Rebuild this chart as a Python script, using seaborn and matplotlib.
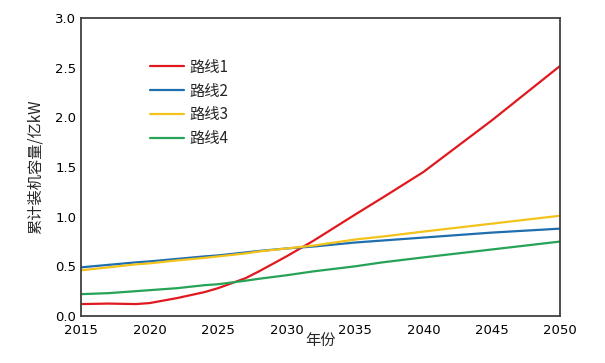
import matplotlib
matplotlib.use("Agg")
import matplotlib.pyplot as plt
import seaborn as sns
import pandas as pd

years = [2015, 2017, 2019, 2020, 2022, 2024, 2025, 2027, 2028, 2030, 2032, 2035, 2037, 2040, 2045, 2050]
route1 = [0.12, 0.125, 0.12, 0.13, 0.18, 0.24, 0.28, 0.38, 0.45, 0.60, 0.76, 1.02, 1.19, 1.45, 1.97, 2.52]
route2 = [0.49, 0.515, 0.54, 0.55, 0.575, 0.60, 0.61, 0.64, 0.655, 0.68, 0.70, 0.74, 0.76, 0.79, 0.84, 0.88]
route3 = [0.46, 0.49, 0.52, 0.53, 0.56, 0.585, 0.60, 0.63, 0.65, 0.68, 0.71, 0.77, 0.80, 0.85, 0.93, 1.01]
route4 = [0.22, 0.23, 0.25, 0.26, 0.28, 0.31, 0.32, 0.355, 0.375, 0.41, 0.45, 0.50, 0.54, 0.59, 0.67, 0.75]
names = ["路线1", "路线2", "路线3", "路线4"]
colors = ["#e0191f", "#1f6eae", "#f3c21b", "#26a356"]

df = pd.DataFrame({"年份": years, names[0]: route1, names[1]: route2,
                   names[2]: route3, names[3]: route4})
long = df.melt(id_vars="年份", var_name="路线", value_name="容量")

sns.set_style("white")
plt.rcParams["font.family"] = ["DejaVu Sans", "Noto Sans CJK SC"]

fig = plt.figure(figsize=(6.05, 3.63), dpi=100)
ax = fig.add_axes([0.134, 0.1295, 0.792, 0.8205])

sns.lineplot(data=long, x="年份", y="容量", hue="路线", palette=colors,
             linewidth=1.6, ax=ax)

ax.set_xlim(2015, 2050)
ax.set_ylim(0, 3.0)
ax.set_xticks(range(2015, 2051, 5))
ax.set_yticks([0, 0.5, 1.0, 1.5, 2.0, 2.5, 3.0])
ax.set_yticklabels([f"{v:.1f}" for v in ax.get_yticks()])
ax.tick_params(axis="both", direction="in", length=4, width=1, colors="#404040",
               labelsize=9.5, labelcolor="black")
ax.tick_params(axis="x", pad=6)
for s in ax.spines.values():
    s.set_color("#404040")
    s.set_linewidth(1.3)

ax.set_xlabel("年份", fontsize=11, family=["Noto Sans CJK SC"], labelpad=-4)
ax.set_ylabel("累计装机容量/亿kW", fontsize=11, family=["Noto Sans CJK SC"], labelpad=8)

leg = ax.legend(loc="upper left", bbox_to_anchor=(0.115, 0.91), frameon=False,
                handlelength=2.2, handletextpad=0.4, labelspacing=0.45,
                prop={"family": "Noto Sans CJK SC", "size": 11})

fig.savefig("out.png", dpi=100)
